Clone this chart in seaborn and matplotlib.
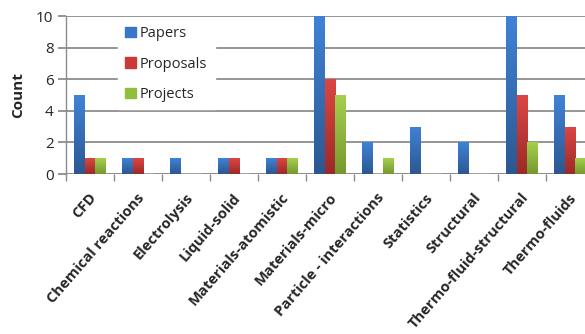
import numpy as np
import pandas as pd
import matplotlib
matplotlib.use("Agg")
import matplotlib.pyplot as plt
import matplotlib.transforms as mtransforms
from matplotlib.colors import LinearSegmentedColormap
import seaborn as sns

categories = ["CFD", "Chemical reactions", "Electrolysis", "Liquid-solid",
              "Materials-atomistic", "Materials-micro", "Particle - interactions",
              "Statistics", "Structural", "Thermo-fluid-structural", "Thermo-fluids"]
papers = [5, 1, 1, 1, 1, 10, 2, 3, 2, 10, 5]
proposals = [1, 1, 0, 1, 1, 6, 0, 0, 0, 5, 3]
projects = [1, 0, 0, 0, 1, 5, 1, 0, 0, 2, 1]
series = ["Papers", "Proposals", "Projects"]
colors = ["#3a76c6", "#cc3a37", "#92be40"]
# light (top) / dark (bottom) shades for each series
shades = {"#3a76c6": ("#3f82d6", "#2c5892"),
          "#cc3a37": ("#dc4643", "#9c2a28"),
          "#92be40": ("#a5cf4c", "#76992f")}

df = pd.DataFrame({"Category": categories * 3,
                   "Count": papers + proposals + projects,
                   "Series": [s for s in series for _ in categories]})

sns.set_style("white")
plt.rcParams["font.family"] = ["Open Sans", "DejaVu Sans"]

fig = plt.figure(figsize=(5.85, 3.34), dpi=100)
ax = fig.add_axes([66 / 585, 1 - 174 / 334, 528 / 585, 158 / 334])

sns.barplot(data=df, x="Category", y="Count", hue="Series", palette=colors,
            width=0.67, ax=ax, saturation=1, legend=True)

# vertical shading inside each bar
for patch in list(ax.patches):
    h = patch.get_height()
    if h <= 0:
        continue
    fc = matplotlib.colors.to_hex(patch.get_facecolor())
    if fc not in shades:
        continue
    top, bottom = shades[fc]
    cmap = LinearSegmentedColormap.from_list("shade", [bottom, top])
    x0, y0, w = patch.get_x(), patch.get_y(), patch.get_width()
    grad = np.linspace(1, 0, 64).reshape(-1, 1)
    im = ax.imshow(grad, cmap=cmap, aspect="auto", interpolation="bilinear",
                   extent=[x0, x0 + w, y0, y0 + h], zorder=patch.get_zorder(),
                   clip_on=True)
    im.set_clip_path(patch)
    patch.set_facecolor("none")
    patch.set_edgecolor("none")

ax.set_ylim(0, 10)
ax.set_xlim(-0.5, len(categories) - 0.5)
ax.set_aspect("auto")
ax.set_yticks(range(0, 11, 2))
ax.yaxis.grid(True, color="#8c8c8c", linewidth=1.3)
ax.set_axisbelow(True)
for s in ["top", "right", "bottom"]:
    ax.spines[s].set_visible(False)
ax.spines["left"].set_color("#8c8c8c")
ax.spines["left"].set_linewidth(1.0)
ax.axhline(0, color="#8c8c8c", linewidth=1.3, zorder=0.5)

# tick marks between category groups
ax.set_xticks(np.arange(-0.5, len(categories) - 0.5 + 1), minor=True)
ax.tick_params(axis="x", which="minor", length=5, width=1, color="#8c8c8c",
               direction="out", bottom=True)
ax.tick_params(axis="x", which="major", length=0, pad=12)
ax.tick_params(axis="y", length=6, width=1.3, color="#8c8c8c", direction="out",
               left=True, labelsize=11, pad=3)
ax.set_xticks(range(len(categories)))
ax.set_xticklabels(categories, rotation=49, ha="right", rotation_mode="anchor",
                   fontsize=10.6, fontweight="bold")
shift = mtransforms.ScaledTranslation(-1 / 100, 0, fig.dpi_scale_trans)
for lbl in ax.get_xticklabels():
    lbl.set_transform(lbl.get_transform() + shift)
ax.set_xlabel("")
ax.set_ylabel("Count", fontsize=11, fontweight="bold", labelpad=8)

handles = [plt.Rectangle((0, 0), 1, 1, color=c) for c in colors]
leg = ax.legend(handles, series, loc="upper left",
                bbox_to_anchor=((118 - 66) / 528, (174 - 19) / 158),
                frameon=True, fontsize=10.5, handlelength=0.7,
                handleheight=0.7, labelspacing=1.05, handletextpad=0.3,
                borderpad=0.5, borderaxespad=0)
leg.get_frame().set_edgecolor("white")
leg.get_frame().set_facecolor("white")
leg.get_frame().set_alpha(1)
leg.get_frame().set_boxstyle("square", pad=0)

fig.savefig("out.png", dpi=100)
